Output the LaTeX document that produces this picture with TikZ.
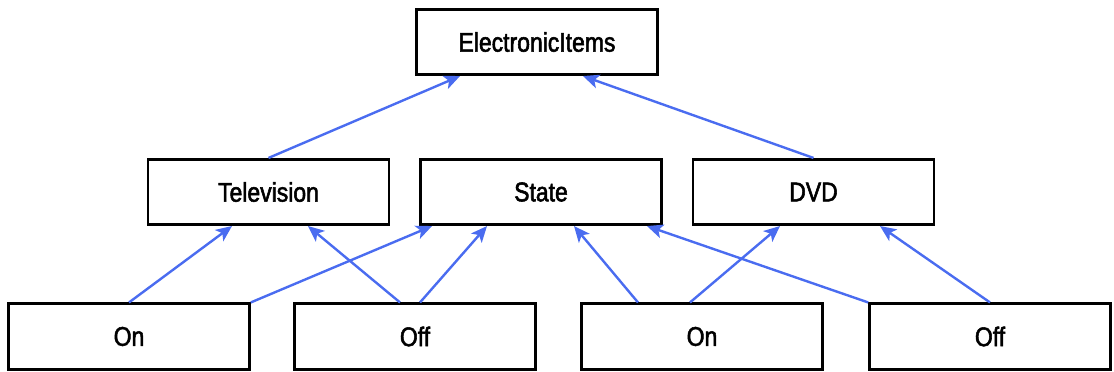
\documentclass[tikz,border=0pt]{standalone}
\usepackage{fontspec}
\setmainfont{Liberation Sans}[FakeStretch=0.85,FakeBold=2]
\usetikzlibrary{arrows.meta}
\definecolor{arrowblue}{RGB}{74,108,240}
\tikzset{
  box/.style={draw=black, line width=2.6pt, minimum width=241pt, minimum height=65.5pt, inner sep=0pt, font=\fontsize{27}{30}\selectfont},
  link/.style={draw=arrowblue, line width=2.4pt, -{Stealth[length=16pt,width=14pt,inset=4pt]}}
}
\begin{document}
\begin{tikzpicture}[x=1pt,y=-1pt]
\useasboundingbox (0,0) rectangle (1114,372);
\node[box] (top) at (537,42) {ElectronicItems};
\node[box] (tv) at (268.5,192) {Television};
\node[box] (state) at (541,192) {State};
\node[box] (dvd) at (813.5,192) {DVD};
\node[box] (on1) at (129,336.5) {On};
\node[box] (off1) at (415,336.5) {Off};
\node[box] (on2) at (702,336.5) {On};
\node[box] (off2) at (990,336.5) {Off};
\draw[link] (tv.north) -- ([xshift=-77pt]top.south);
\draw[link] (dvd.north) -- ([xshift=46pt]top.south);
\draw[link] (on1.north) -- ([xshift=-36.5pt]tv.south);
\draw[link] (on1.north east) -- ([xshift=-109pt]state.south);
\draw[link] ([xshift=-15pt]off1.north) -- ([xshift=39.5pt]tv.south);
\draw[link] ([xshift=5pt]off1.north) -- ([xshift=-54pt]state.south);
\draw[link] ([xshift=-64pt]on2.north) -- ([xshift=33pt]state.south);
\draw[link] ([xshift=-12pt]on2.north) -- ([xshift=-33.5pt]dvd.south);
\draw[link] (off2.north west) -- ([xshift=106pt]state.south);
\draw[link] (off2.north) -- ([xshift=66.5pt]dvd.south);
\end{tikzpicture}
\end{document}
